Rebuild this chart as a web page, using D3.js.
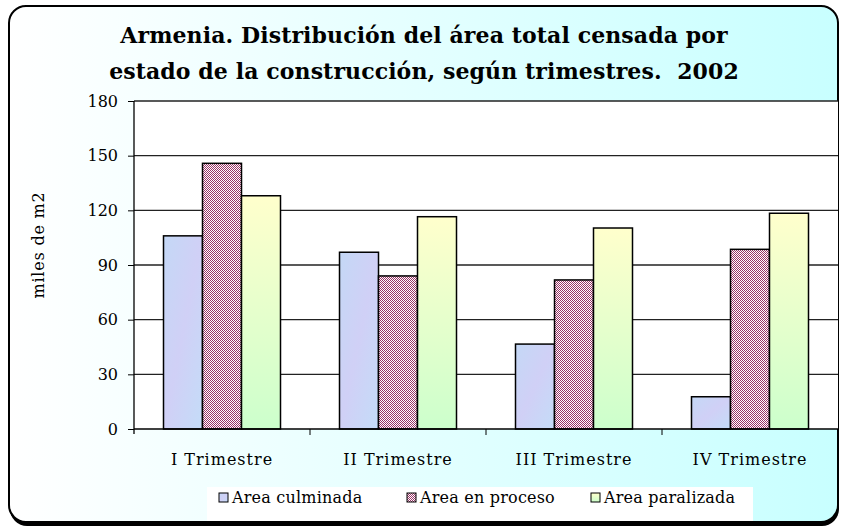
<!DOCTYPE html>
<html><head><meta charset="utf-8">
<script src="https://cdn.jsdelivr.net/npm/d3@7"></script>
<style>html,body{margin:0;padding:0;background:#fff;}svg{display:block;}text{white-space:pre;}</style>
</head><body>
<script>
const categories = ["I Trimestre", "II Trimestre", "III Trimestre", "IV Trimestre"];
const seriesNames = ["Area culminada", "Area en proceso", "Area paralizada"];
const culminada = [106, 97, 46.6, 17.7];
const enProceso = [145.8, 84, 81.8, 98.6];
const paralizada = [128, 116.5, 110.3, 118.4];
const yTicks = [0, 30, 60, 90, 120, 150, 180];
const titleLines = ["Armenia. Distribución del área total censada por", "estado de la construcción, según trimestres.  2002"];
const yLabel = "miles de m2";

const W = 841, H = 529;
const svg = d3.select("body").append("svg").attr("width", W).attr("height", H);
const defs = svg.append("defs");

const bg = defs.append("linearGradient").attr("id", "bg").attr("x1", 0).attr("x2", 1).attr("y1", 0).attr("y2", 0);
bg.append("stop").attr("offset", "0%").attr("stop-color", "#ffffff");
bg.append("stop").attr("offset", "100%").attr("stop-color", "#c8ffff");

const yg = defs.append("linearGradient").attr("id", "yg").attr("x1", 0).attr("x2", 0).attr("y1", 0).attr("y2", 1);
yg.append("stop").attr("offset", "0%").attr("stop-color", "#ffffcc");
yg.append("stop").attr("offset", "100%").attr("stop-color", "#ccffcc");

const bl = defs.append("linearGradient").attr("id", "bl").attr("x1", 0).attr("x2", 1).attr("y1", 0).attr("y2", 1);
bl.append("stop").attr("offset", "0%").attr("stop-color", "#c4d8f6");
bl.append("stop").attr("offset", "50%").attr("stop-color", "#d0d0f6");
bl.append("stop").attr("offset", "100%").attr("stop-color", "#c4dcf8");

const pp = defs.append("pattern").attr("id", "pp").attr("width", 2).attr("height", 2).attr("patternUnits", "userSpaceOnUse");
pp.append("rect").attr("width", 2).attr("height", 2).attr("fill", "#ffffff");
pp.append("rect").attr("width", 1).attr("height", 1).attr("fill", "#993366");
pp.append("rect").attr("x", 1).attr("y", 1).attr("width", 1).attr("height", 1).attr("fill", "#993366");

const fills = ["url(#bl)", "url(#pp)", "url(#yg)"];

// frame with shadow
svg.append("rect").attr("x", 10).attr("y", 9).attr("width", 829).attr("height", 517).attr("rx", 17).attr("fill", "#000");
svg.append("rect").attr("x", 9).attr("y", 6).attr("width", 829).attr("height", 516).attr("rx", 17)
  .attr("fill", "url(#bg)").attr("stroke", "#000").attr("stroke-width", 2);

const L = 134, R = 838, T = 101, B = 429;
const x0 = d3.scaleBand().domain(categories).range([L, R]).paddingInner(0).paddingOuter(0);
const y = d3.scaleLinear().domain([0, 180]).range([B, T]);

// plot area
svg.append("rect").attr("x", L).attr("y", T).attr("width", R - L).attr("height", B - T).attr("fill", "#ffffff");

// gridlines
svg.append("g").selectAll("line").data(yTicks.filter(d => d > 0)).join("line")
  .attr("x1", L).attr("x2", R).attr("y1", d => y(d)).attr("y2", d => y(d))
  .attr("stroke", "#222").attr("stroke-width", 1.3);

// y axis
const yAxis = svg.append("g").attr("transform", `translate(${L},0)`)
  .call(d3.axisLeft(y).tickValues(yTicks).tickSize(6).tickPadding(10));
yAxis.select(".domain").remove();
yAxis.selectAll("line").attr("stroke", "#000");
yAxis.selectAll("text").attr("font-family", "DejaVu Serif").attr("font-size", 16).attr("fill", "#000");
svg.append("line").attr("x1", L).attr("x2", L).attr("y1", T).attr("y2", B + 5).attr("stroke", "#000").attr("stroke-width", 1.3);

// bars
const data = [culminada, enProceso, paralizada];
const bw = 39;
const groups = svg.append("g").selectAll("g").data(categories).join("g")
  .attr("transform", d => `translate(${x0(d)},0)`);
groups.selectAll("rect").data((c, i) => data.map((s, k) => ({k, v: s[i]}))).join("rect")
  .attr("x", d => (x0.bandwidth() - 3 * bw) / 2 + d.k * bw)
  .attr("width", bw)
  .attr("y", d => y(d.v))
  .attr("height", d => y(0) - y(d.v))
  .attr("fill", d => fills[d.k])
  .attr("stroke", "#000").attr("stroke-width", 1.5);

// x axis
svg.append("line").attr("x1", L).attr("x2", R).attr("y1", B).attr("y2", B).attr("stroke", "#000").attr("stroke-width", 1.3);
const xAxis = svg.append("g").attr("transform", `translate(0,${B})`)
  .call(d3.axisBottom(x0).tickSize(0).tickPadding(25));
xAxis.select(".domain").remove();
xAxis.selectAll("text").attr("font-family", "DejaVu Serif").attr("font-size", 16)
  .attr("letter-spacing", 1).attr("fill", "#000");
svg.append("g").selectAll("line").data(categories).join("line")
  .attr("x1", d => x0(d) + x0.bandwidth()).attr("x2", d => x0(d) + x0.bandwidth())
  .attr("y1", B).attr("y2", B + 6).attr("stroke", "#000");

// y label
svg.append("text").attr("transform", "translate(44,245) rotate(-90)")
  .attr("text-anchor", "middle").attr("font-family", "DejaVu Serif").attr("font-size", 16)
  .attr("letter-spacing", 0.8).text(yLabel);

// title
svg.append("g").selectAll("text").data(titleLines).join("text")
  .attr("x", 424).attr("y", (d, i) => 43 + i * 36)
  .attr("text-anchor", "middle").attr("font-family", "DejaVu Serif").attr("font-weight", "bold")
  .attr("font-size", 22).attr("letter-spacing", 0.1).text(d => d);

// legend
svg.append("rect").attr("x", 207).attr("y", 487).attr("width", 546).attr("height", 34).attr("fill", "#fff");
const legX = [219, 407, 591];
const lg = svg.append("g").selectAll("g").data(seriesNames).join("g")
  .attr("transform", (d, i) => `translate(${legX[i]},493)`);
lg.append("rect").attr("width", 9).attr("height", 9).attr("fill", (d, i) => fills[i]).attr("stroke", "#000").attr("stroke-width", 1);
lg.append("text").attr("x", 13).attr("y", 10).attr("font-family", "DejaVu Serif").attr("font-size", 16)
  .attr("letter-spacing", 0.2).text(d => d);
</script>
</body></html>
